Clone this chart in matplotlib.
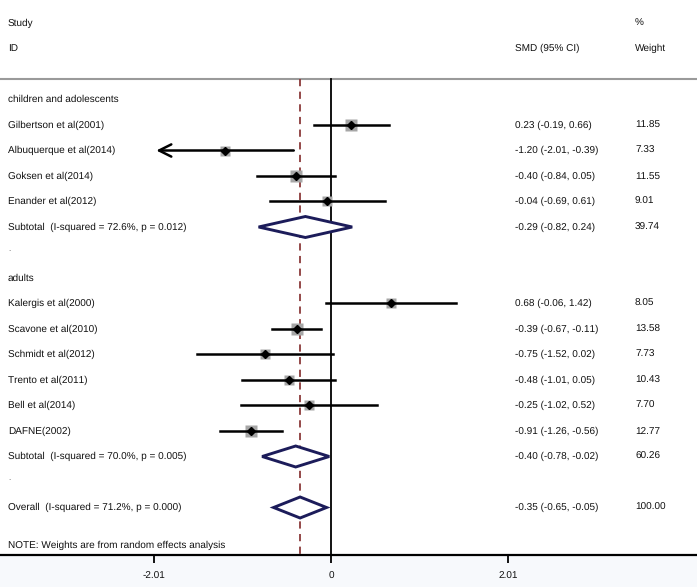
import matplotlib.pyplot as plt
from matplotlib.patches import Polygon
import numpy as np

plt.rcParams["font.family"] = ["Liberation Sans", "DejaVu Sans"]
plt.rcParams["text.hinting"] = "no_hinting"
plt.rcParams["text.hinting_factor"] = 1

# Study-level data
studies = ["Gilbertson et al(2001)", "Albuquerque et al(2014)", "Goksen et al(2014)",
           "Enander et al(2012)", "Kalergis et al(2000)", "Scavone et al(2010)",
           "Schmidt et al(2012)", "Trento et al(2011)", "Bell et al(2014)", "DAFNE(2002)"]
smd = [0.23, -1.20, -0.40, -0.04, 0.68, -0.39, -0.75, -0.48, -0.25, -0.91]
lo = [-0.19, -2.01, -0.84, -0.69, -0.06, -0.67, -1.52, -1.01, -1.02, -1.26]
hi = [0.66, -0.39, 0.05, 0.61, 1.42, -0.11, 0.02, 0.05, 0.52, -0.56]
weight = [11.85, 7.33, 11.55, 9.01, 8.05, 13.58, 7.73, 10.43, 7.70, 12.77]
clipped_left = [False, True, False, False, False, False, False, False, False, False]
rows = [4, 5, 6, 7, 11, 12, 13, 14, 15, 16]
ci_text = ["0.23 (-0.19, 0.66)", "-1.20 (-2.01, -0.39)", "-0.40 (-0.84, 0.05)",
           "-0.04 (-0.69, 0.61)", "0.68 (-0.06, 1.42)", "-0.39 (-0.67, -0.11)",
           "-0.75 (-1.52, 0.02)", "-0.48 (-1.01, 0.05)", "-0.25 (-1.02, 0.52)",
           "-0.91 (-1.26, -0.56)"]

# Pooled estimates
pooled_labels = ["Subtotal  (I-squared = 72.6%, p = 0.012)",
                 "Subtotal  (I-squared = 70.0%, p = 0.005)",
                 "Overall  (I-squared = 71.2%, p = 0.000)"]
pooled_est = [-0.29, -0.40, -0.35]
pooled_lo = [-0.82, -0.78, -0.65]
pooled_hi = [0.24, -0.02, -0.05]
pooled_w = ["39.74", "60.26", "100.00"]
pooled_ci = ["-0.29 (-0.82, 0.24)", "-0.40 (-0.78, -0.02)", "-0.35 (-0.65, -0.05)"]
pooled_rows = [8, 17, 19]

groups = ["children and adolescents", "adults"]
group_rows = [3, 10]
xticks = [-2.01, 0, 2.01]

W, H = 697, 587
fig = plt.figure(figsize=(W / 100, H / 100), dpi=100, facecolor="#f7f9fc")
ax = fig.add_axes([0, (H - 555) / H, 1, 555 / H])
ax.set_facecolor("white")

px = 88.3  # pixels per unit
x0 = 331
ax.set_xlim(-x0 / px, (W - x0) / px)
rowh = 25.5
ax.set_ylim((555 - 23) / rowh, -23 / rowh)


def xr(pix):
    return (pix - x0) / px


line_row = (79 - 23) / rowh
ybot = (555 - 23) / rowh
ax.axhline(line_row, color="#9a9a9a", lw=1.5)
ax.plot([0, 0], [line_row, ybot], color="black", lw=1.3)
ax.plot([pooled_est[2]] * 2, [line_row, ybot], color="#8b3a3a", lw=1.3,
        ls=(0, (4, 3)))

fs = 7.4
tc = "#111111"
ax.text(xr(8), 0, "Study", fontsize=fs, va="center", color=tc)
ax.text(xr(8), 1, "ID", fontsize=fs, va="center", color=tc)
ax.text(xr(515), 1, "SMD (95% CI)", fontsize=fs, va="center", color=tc)
ax.text(xr(635), 0, "%", fontsize=fs, va="center", color=tc)
ax.text(xr(635), 1, "Weight", fontsize=fs, va="center", color=tc)

for g, r in zip(groups, group_rows):
    ax.text(xr(8), r, g, fontsize=fs, va="center", color=tc)

for i in range(len(studies)):
    r = rows[i]
    ax.text(xr(8), r, studies[i], fontsize=fs, va="center", color=tc)
    ax.text(xr(515), r, ci_text[i], fontsize=fs, va="center", color=tc)
    ax.text(xr(635), r, f"{weight[i]:.2f}", fontsize=fs, va="center", color=tc)
    side = 3.4 * np.sqrt(weight[i]) * 0.72
    ax.plot(smd[i], r, marker="s", ms=side, color="#a6a6a6", mec="none", zorder=3)
    if clipped_left[i]:
        ax.annotate("", xy=(lo[i], r), xytext=(hi[i], r),
                    arrowprops=dict(arrowstyle="->", color="black", lw=1.8,
                                    mutation_scale=22), zorder=4)
    else:
        ax.plot([lo[i], hi[i]], [r, r], color="black", lw=1.8, zorder=4)
    ax.plot(smd[i], r, marker="D", ms=4.5, color="black", zorder=5)

dh = 10.5 / rowh
for i in range(3):
    r = pooled_rows[i]
    ax.text(xr(8), r, pooled_labels[i], fontsize=fs, va="center", color=tc)
    ax.text(xr(515), r, pooled_ci[i], fontsize=fs, va="center", color=tc)
    ax.text(xr(635), r, pooled_w[i], fontsize=fs, va="center", color=tc)
    d = Polygon([[pooled_lo[i], r], [pooled_est[i], r - dh], [pooled_hi[i], r],
                 [pooled_est[i], r + dh]], closed=True, facecolor="white",
                edgecolor="#1c1c5a", lw=2.1, zorder=6)
    ax.add_patch(d)

for r in [9, 18]:
    ax.text(xr(8), r - 0.15, ".", fontsize=6, va="center", color="#555555")

ax.text(xr(8), 20.5, "NOTE: Weights are from random effects analysis",
        fontsize=fs, va="center", color=tc)

for s in ["left", "right", "top"]:
    ax.spines[s].set_visible(False)
ax.spines["bottom"].set_linewidth(1.6)
ax.set_yticks([])
ax.set_xticks(xticks)
ax.set_xticklabels(["-2.01", "0", "2.01"], fontsize=fs, color=tc)
ax.tick_params(axis="x", length=6, width=1.3, pad=6)

fig.savefig("out.png", dpi=100, facecolor=fig.get_facecolor())
